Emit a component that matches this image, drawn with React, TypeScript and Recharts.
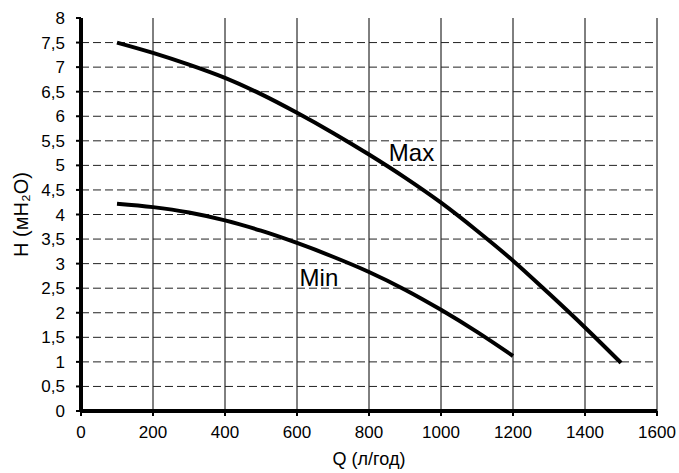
import React from 'react';
import { LineChart, Line, XAxis, YAxis, CartesianGrid, ReferenceDot } from 'recharts';

const flowQ = [100, 200, 300, 400, 500, 600, 700, 800, 900, 1000, 1100, 1200, 1300, 1400, 1500];
const headMax = [7.5, 7.29, 7.05, 6.78, 6.45, 6.07, 5.66, 5.22, 4.75, 4.24, 3.67, 3.06, 2.39, 1.7, 0.98];
const headMin = [4.22, 4.15, 4.04, 3.88, 3.67, 3.42, 3.14, 2.83, 2.47, 2.06, 1.61, 1.12, null, null, null];

const xTicks = [0, 200, 400, 600, 800, 1000, 1200, 1400, 1600];
const yTicks = [0, 0.5, 1, 1.5, 2, 2.5, 3, 3.5, 4, 4.5, 5, 5.5, 6, 6.5, 7, 7.5, 8];
const yDashed = [0.5, 1, 1.5, 2, 2.5, 3, 3.5, 4, 4.5, 5, 5.5, 6, 6.5, 7, 7.5];

const labelMax = { text: 'Max', q: 918, h: 5.26 };
const labelMin = { text: 'Min', q: 661, h: 2.72 };

const data = flowQ.map((q, i) => ({ q, max: headMax[i], min: headMin[i] }));

const FONT = '"Liberation Sans", Arial, sans-serif';
const fmt = (v: number) => String(v).replace('.', ',');

export default function App() {
  return (
    <div style={{ position: 'absolute', left: 0, top: 0, fontFamily: FONT }}>
      <LineChart width={679} height={473} data={data} margin={{ top: 18, right: 22, left: 0, bottom: 0 }}>
        <CartesianGrid vertical={true} horizontal={false} stroke="#000" strokeWidth={1} />
        <CartesianGrid
          vertical={false}
          horizontal={true}
          horizontalValues={yDashed}
          stroke="#222"
          strokeWidth={1}
          strokeDasharray="8 4"
        />
        <XAxis
          dataKey="q"
          type="number"
          domain={[0, 1600]}
          ticks={xTicks}
          height={62}
          axisLine={{ stroke: '#000', strokeWidth: 4 }}
          tickLine={{ stroke: '#000', strokeWidth: 2 }}
          tickSize={5}
          tickMargin={10}
          tick={{ fill: '#000', fontSize: 17, fontFamily: FONT }}
          label={{ value: 'Q (л/год)', position: 'insideBottom', offset: 8, fill: '#000', fontSize: 18, fontFamily: FONT }}
        />
        <YAxis
          type="number"
          domain={[0, 8]}
          ticks={yTicks}
          width={81}
          interval={0}
          tickFormatter={fmt}
          axisLine={{ stroke: '#000', strokeWidth: 4 }}
          tickLine={{ stroke: '#000', strokeWidth: 2 }}
          tickSize={5}
          tickMargin={11}
          tick={{ fill: '#000', fontSize: 17, fontFamily: FONT }}
          label={{
            value: 'H (мН₂О)',
            angle: -90,
            position: 'insideLeft',
            offset: 21,
            fill: '#000',
            fontSize: 20,
            fontFamily: FONT,
            style: { textAnchor: 'middle' },
          }}
        />
        <Line dataKey="max" type="monotone" stroke="#000" strokeWidth={4} dot={false} isAnimationActive={false} />
        <Line dataKey="min" type="monotone" stroke="#000" strokeWidth={4} dot={false} isAnimationActive={false} connectNulls={false} />
        <ReferenceDot
          x={labelMax.q}
          y={labelMax.h}
          r={0}
          stroke="none"
          fill="none"
          label={{ value: labelMax.text, position: 'center', fill: '#000', fontSize: 24, fontFamily: FONT }}
        />
        <ReferenceDot
          x={labelMin.q}
          y={labelMin.h}
          r={0}
          stroke="none"
          fill="none"
          label={{ value: labelMin.text, position: 'center', fill: '#000', fontSize: 24, fontFamily: FONT }}
        />
      </LineChart>
    </div>
  );
}
